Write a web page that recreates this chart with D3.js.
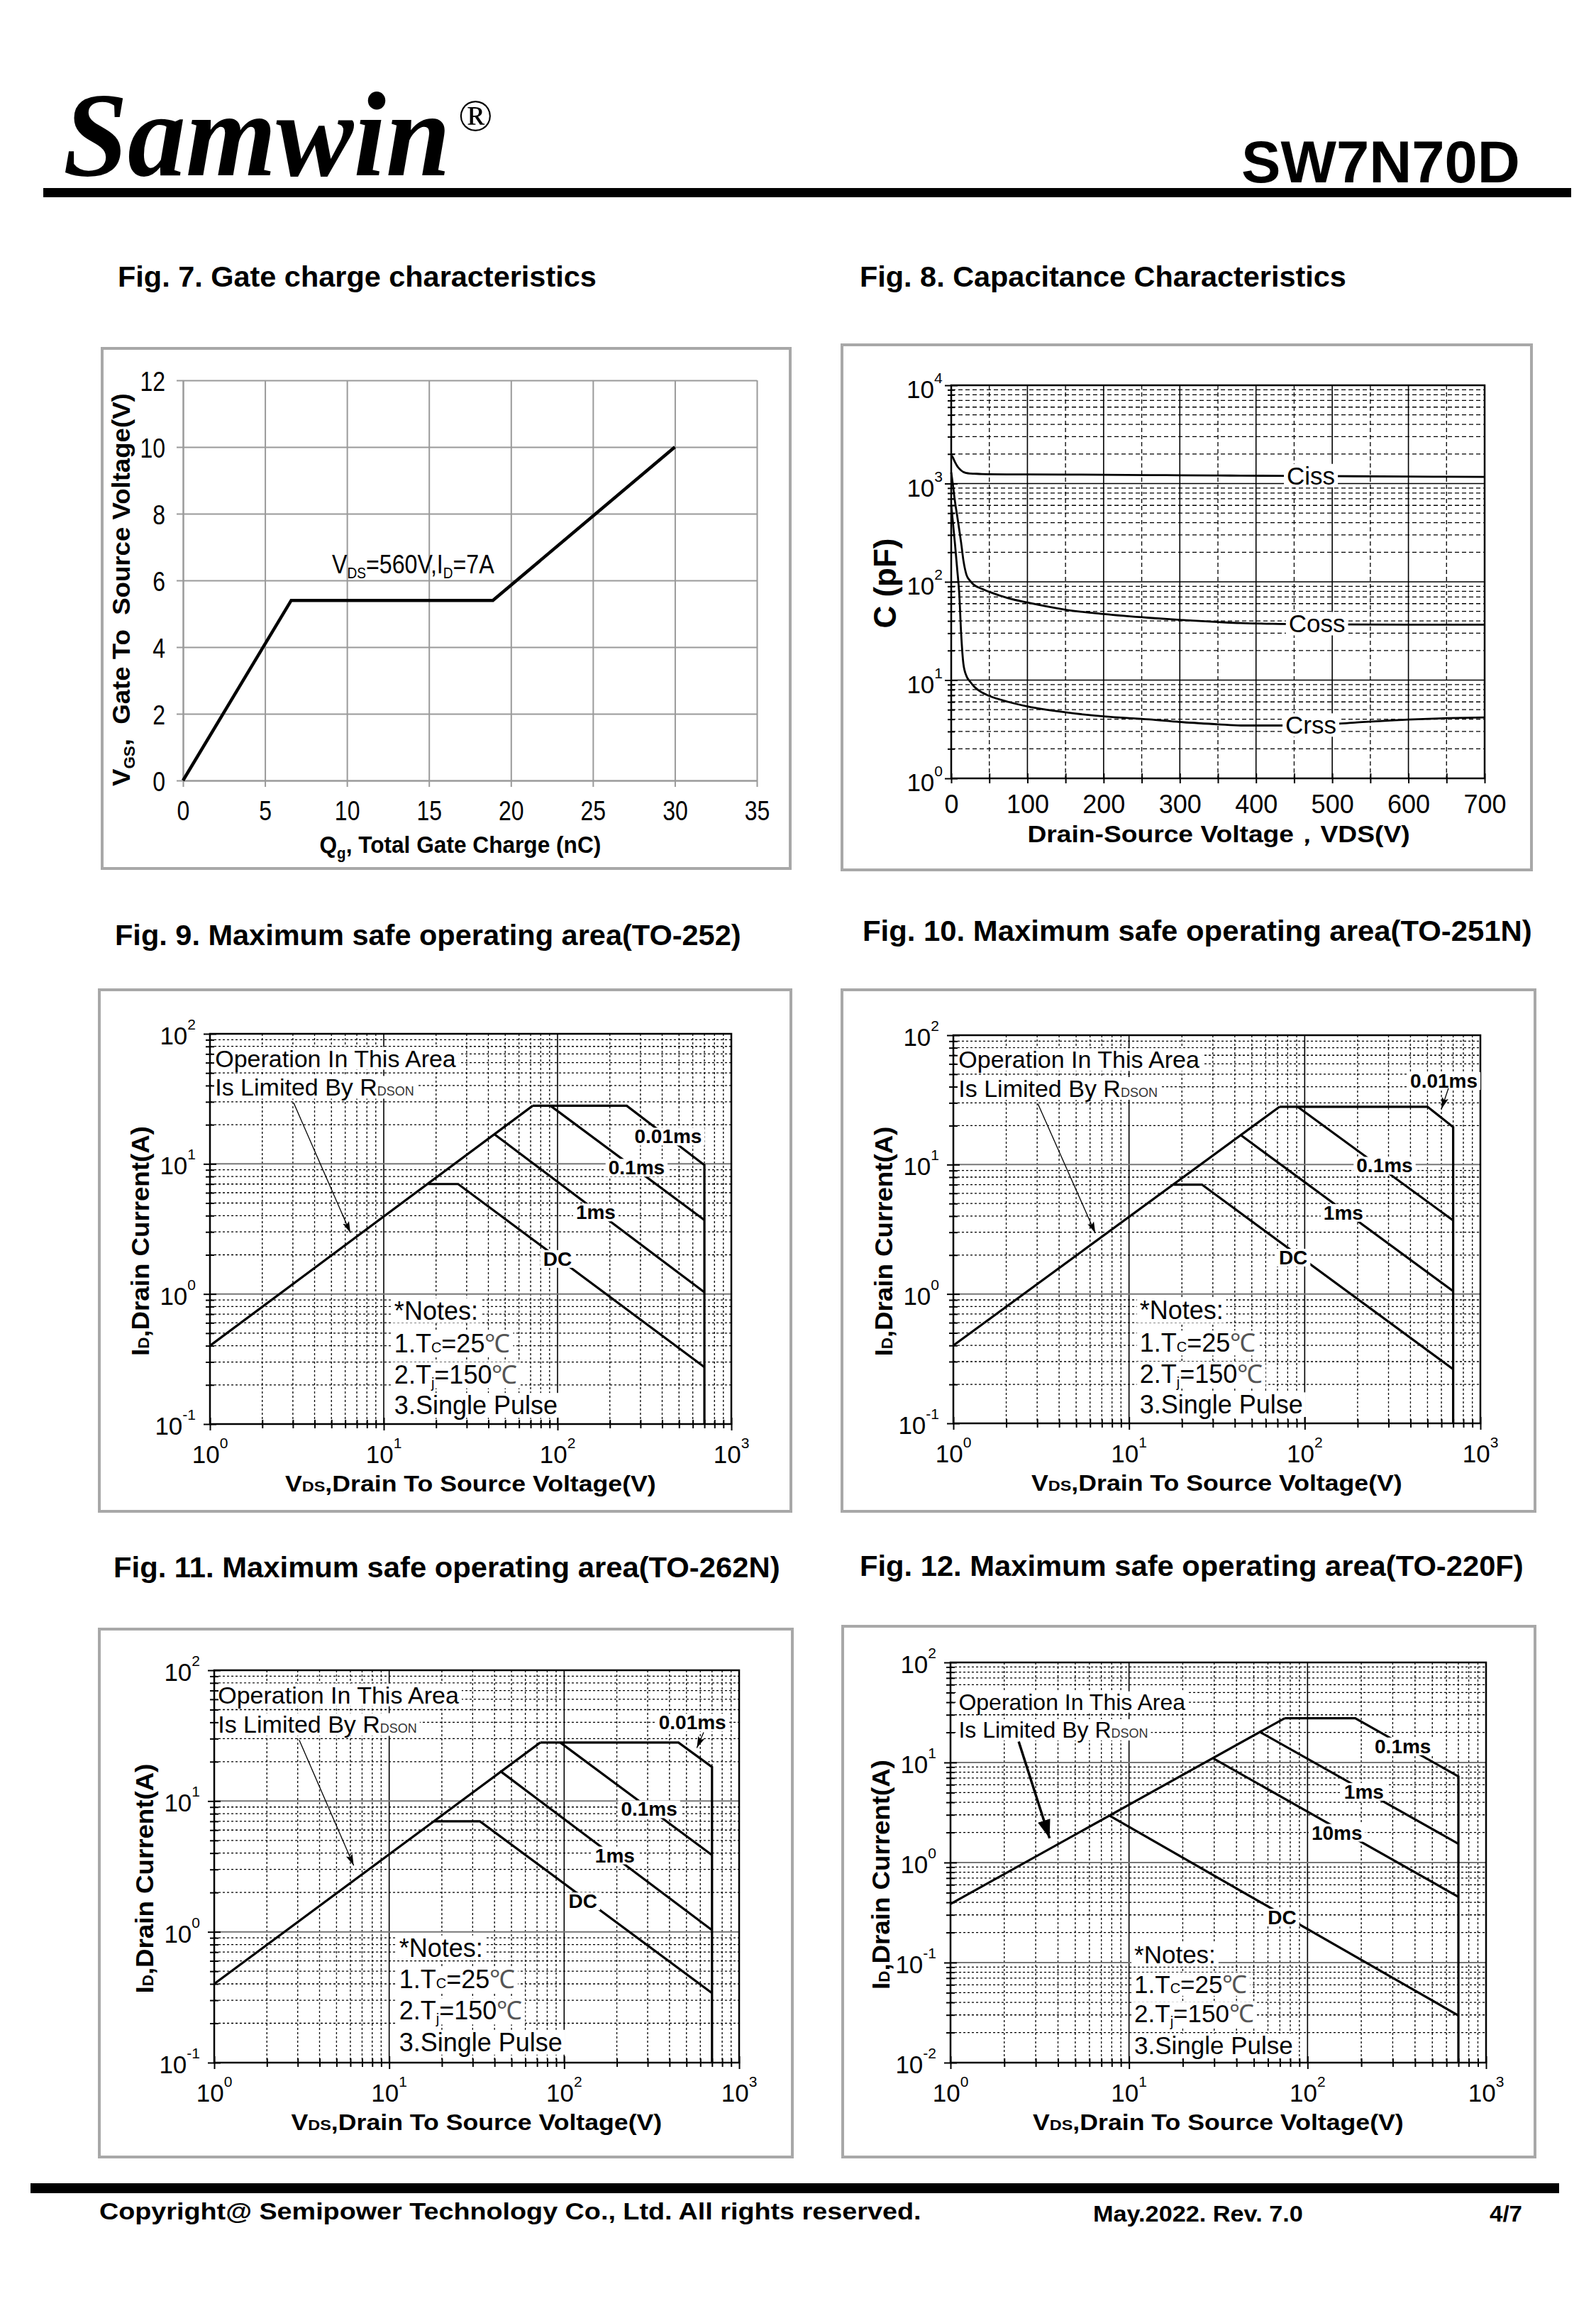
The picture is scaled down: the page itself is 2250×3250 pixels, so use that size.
<!DOCTYPE html>
<html>
<head>
<meta charset="utf-8">
<script src="https://cdn.jsdelivr.net/npm/d3@7"></script>
<style>
body { margin: 0; background: #fff; }
text { font-family: Arial, "Liberation Sans", Helvetica, sans-serif; white-space: pre; }
text.serif { font-family: "Liberation Serif", "Times New Roman", serif; }
</style>
</head>
<body>
<script>
// ---------- data ----------
// Fig. 7 gate charge
const qgNc = [0, 6.6, 18.9, 30];
const vgsV = [0, 5.4, 5.4, 10];
const fig7XTicks = [0, 5, 10, 15, 20, 25, 30, 35];
const fig7YTicks = [0, 2, 4, 6, 8, 10, 12];

// Fig. 8 capacitance (pF) vs VDS (V)
const capVds = [0, 2, 5, 8, 10.5, 13, 16, 20, 25, 30, 40, 50, 75, 100, 150, 200, 260, 300, 350, 380, 430, 480, 530, 600, 650, 700];
const ciss = [1950, 1850, 1650, 1500, 1420, 1360, 1310, 1280, 1265, 1260, 1250, 1245, 1240, 1238, 1235, 1228, 1220, 1215, 1208, 1204, 1198, 1192, 1186, 1178, 1172, 1167];
const coss = [1300, 1000, 650, 460, 340, 250, 165, 118, 102, 93, 85, 79, 68, 61.5, 52, 47, 43, 41, 39, 38, 37.3, 37, 36.8, 36.7, 36.6, 36.6];
const crss = [600, 420, 240, 130, 77, 30, 14.6, 11, 9.6, 8.6, 7.5, 6.9, 6.0, 5.4, 4.7, 4.27, 3.98, 3.75, 3.55, 3.45, 3.45, 3.5, 3.7, 3.97, 4.1, 4.17];
const fig8XTicks = [0, 100, 200, 300, 400, 500, 600, 700];
const capLabels = [["Ciss", 472, 1195], ["Coss", 480, 37.2], ["Crss", 472, 3.46]];

// Fig. 9 SOA TO-252  [V, A]
const soa9Rdson = [[1, 0.4], [72, 28]];
const soa9Ms001 = [[72, 28], [250, 28], [700, 9.8], [700, 0.1]];
const soa9Ms01 = [[91, 28], [700, 3.7]];
const soa9Ms1 = [[43, 17], [700, 1.03]];
const soa9Dc = [[18, 7], [26.8, 7], [700, 0.274]];
const soa9Labels = [["0.01ms", 433, 16.3], ["0.1ms", 285, 9.4], ["1ms", 166, 4.26], ["DC", 100, 1.87]];

// Fig. 10 SOA TO-251N
const soa10Rdson = [[1, 0.4], [72, 28]];
const soa10Ms001 = [[72, 28], [500, 28], [700, 19.5], [700, 0.1]];
const soa10Ms01 = [[91, 28], [700, 3.7]];
const soa10Ms1 = [[43, 17], [700, 1.05]];
const soa10Dc = [[18, 7], [26, 7], [700, 0.262]];
const soa10Labels = [["0.01ms", 620, 44.5], ["0.1ms", 285, 9.86], ["1ms", 166, 4.26], ["DC", 86, 1.92]];

// Fig. 11 SOA TO-262N
const soa11Rdson = [[1, 0.4], [73, 28]];
const soa11Ms001 = [[73, 28], [450, 28], [700, 18.2], [700, 0.1]];
const soa11Ms01 = [[95, 28], [700, 3.86]];
const soa11Ms1 = [[43, 17], [700, 1.03]];
const soa11Dc = [[18, 7], [33, 7], [700, 0.34]];
const soa11Labels = [["0.01ms", 541, 40], ["0.1ms", 306, 8.7], ["1ms", 195, 3.86], ["DC", 128, 1.72]];

// Fig. 12 SOA TO-220F
const soa12Rdson = [[1, 0.386], [74.5, 27.7]];
const soa12Ms01 = [[74.5, 27.7], [185, 27.7], [700, 7.25], [700, 0.01]];
const soa12Ms1 = [[54.6, 20], [700, 1.54]];
const soa12Ms10 = [[29.6, 11], [700, 0.454]];
const soa12Dc = [[7.8, 2.93], [700, 0.0296]];
const soa12Labels = [["0.1ms", 342, 14.6], ["1ms", 207, 5.13], ["10ms", 146, 2.0], ["DC", 72, 0.284]];

// ---------- page ----------
const svg = d3.select("body").append("svg")
  .attr("width", 2250).attr("height", 3250).style("display", "block");

const defs = svg.append("defs");
defs.append("marker").attr("id", "arrThin").attr("viewBox", "0 0 10 10")
  .attr("refX", 10).attr("refY", 5).attr("markerWidth", 16).attr("markerHeight", 16)
  .attr("markerUnits", "userSpaceOnUse").attr("orient", "auto")
  .append("path").attr("d", "M0,2 L10,5 L0,8 L2,5 z").attr("fill", "#000");
defs.append("marker").attr("id", "arrBold").attr("viewBox", "0 0 10 10")
  .attr("refX", 10).attr("refY", 5).attr("markerWidth", 26).attr("markerHeight", 26)
  .attr("markerUnits", "userSpaceOnUse").attr("orient", "auto")
  .append("path").attr("d", "M0,1.5 L10,5 L0,8.5 z").attr("fill", "#000");

// text with tspans: parts are strings or {t, size, off, weight}
function rich(parent, parts, size, weight, cls) {
  const t = parent.append("text").attr("class", cls || null).attr("font-size", size)
    .attr("font-weight", weight || "normal").attr("fill", "#000");
  let cur = 0;
  parts.forEach(p => {
    const o = typeof p === "string" ? { t: p } : p;
    const off = o.off || 0;
    t.append("tspan").attr("dy", off - cur).attr("font-size", o.size || size)
      .attr("font-weight", o.weight || null).attr("fill", o.fill || null).text(o.t);
    cur = off;
  });
  return t;
}

// place text with baseline at (x, y); optional fit width, rotate, white background
function place(parent, parts, size, weight, x, y, opt = {}) {
  const g = parent.append("g");
  const t = rich(g, parts, size, weight, opt.cls);
  if (opt.italic) t.attr("font-style", "italic");
  const b = t.node().getBBox();
  const sx = opt.width ? opt.width / b.width : (opt.sx || 1);
  const ax = opt.anchor === "middle" ? b.x + b.width / 2 : opt.anchor === "end" ? b.x + b.width : b.x;
  g.attr("transform", `translate(${x},${y}) rotate(${opt.rotate || 0}) scale(${sx},1) translate(${-ax},0)`);
  if (opt.bg) {
    g.insert("rect", "text").attr("x", b.x - 4).attr("y", b.y + 3)
      .attr("width", b.width + 8).attr("height", b.height - 6).attr("fill", "#fff");
  }
  return g;
}

function frame(r) {
  svg.append("rect").attr("x", r[0]).attr("y", r[1]).attr("width", r[2] - r[0]).attr("height", r[3] - r[1])
    .attr("fill", "none").attr("stroke", "#a8a8a8").attr("stroke-width", 4);
}

const isDecade = v => Math.abs(Math.log10(v) - Math.round(Math.log10(v))) < 1e-6;

// header
place(svg, ["Samwin"], 170, "bold", 89, 247, { width: 546, cls: "serif", italic: true });
place(svg, ["®"], 64, "normal", 646, 184, { cls: "serif" });
place(svg, ["SW7N70D"], 84, "bold", 1750, 257, { width: 393 });
svg.append("rect").attr("x", 61).attr("y", 265).attr("width", 2154).attr("height", 13).attr("fill", "#000");

// titles
place(svg, ["Fig. 7. Gate charge characteristics"], 40, "bold", 166, 404, { width: 675 });
place(svg, ["Fig. 8. Capacitance Characteristics"], 40, "bold", 1212, 404, { width: 686 });
place(svg, ["Fig. 9. Maximum safe operating area(TO-252)"], 40, "bold", 162, 1332, { width: 883 });
place(svg, ["Fig. 10. Maximum safe operating area(TO-251N)"], 40, "bold", 1216, 1326, { width: 944 });
place(svg, ["Fig. 11. Maximum safe operating area(TO-262N)"], 40, "bold", 160, 2223, { width: 940 });
place(svg, ["Fig. 12. Maximum safe operating area(TO-220F)"], 40, "bold", 1212, 2221, { width: 936 });

// footer
svg.append("rect").attr("x", 43).attr("y", 3077).attr("width", 2155).attr("height", 14).attr("fill", "#000");
place(svg, ["Copyright@ Semipower Technology Co., Ltd. All rights reserved."], 34, "bold", 140, 3128, { width: 1159 });
place(svg, ["May.2022. Rev. 7.0"], 31, "bold", 1541, 3131, { width: 296 });
place(svg, ["4/7"], 31, "bold", 2100, 3131, { width: 46 });

// ---------- Fig. 7 ----------
{
  const x = d3.scaleLinear().domain([0, 35]).range([258, 1067]);
  const y = d3.scaleLinear().domain([0, 12]).range([1100, 536]);
  frame([144, 491, 1114, 1224]);
  const g = svg.append("g");
  const gridC = "#9a9a9a";
  const sq = 0.82; // tick labels are narrow in the original
  g.append("g").attr("transform", "translate(0,1100)")
    .call(d3.axisBottom(x).tickValues(fig7XTicks).tickSizeInner(-564).tickSizeOuter(0))
    .call(a => a.selectAll("line").attr("stroke", gridC).attr("stroke-width", 2).attr("y1", 9))
    .call(a => a.select(".domain").attr("stroke", gridC).attr("stroke-width", 2))
    .call(a => a.selectAll("text").attr("y", 56).attr("dy", null).attr("font-size", 39)
      .attr("transform", `scale(${sq},1)`).attr("fill", "#000"));
  g.append("g").attr("transform", "translate(258,0)")
    .call(d3.axisLeft(y).tickValues(fig7YTicks).tickSizeInner(-809).tickSizeOuter(0))
    .call(a => a.selectAll("line").attr("stroke", gridC).attr("stroke-width", 2).attr("x1", -9))
    .call(a => a.select(".domain").attr("stroke", gridC).attr("stroke-width", 2))
    .call(a => a.selectAll("text").attr("x", -25 / sq).attr("dy", "0.36em").attr("font-size", 39)
      .attr("transform", `scale(${sq},1)`).attr("fill", "#000"));
  g.append("path").datum(d3.zip(qgNc, vgsV))
    .attr("d", d3.line().x(d => x(d[0])).y(d => y(d[1])))
    .attr("fill", "none").attr("stroke", "#000").attr("stroke-width", 4.5);
  place(g, ["V", { t: "DS", size: 22, off: 7 }, { t: "=560V,I" }, { t: "D", size: 22, off: 7 }, { t: "=7A" }],
    37, "normal", 468, 808, { width: 229 });
  place(g, ["Q", { t: "g", size: 22, off: 8 }, { t: ", Total Gate Charge (nC)" }], 34, "bold", 649, 1202,
    { anchor: "middle", width: 397 });
  place(g, ["V", { t: "GS", size: 22, off: 7 }, { t: ",  Gate To  Source Voltage(V)" }], 36, "bold", 183, 831,
    { anchor: "middle", width: 554, rotate: -90 });
}

// ---------- Fig. 8 ----------
{
  const x = d3.scaleLinear().domain([0, 700]).range([1341, 2093]);
  const y = d3.scaleLog().domain([1, 10000]).range([1097, 543]);
  frame([1187, 486, 2159, 1226]);
  const g = svg.append("g");
  const yt = y.ticks();
  const xt = x.ticks(14);
  const x0 = 1341, x1 = 2093, y0 = 543, y1 = 1097;
  g.selectAll(null).data(yt.filter(v => !isDecade(v))).join("line")
    .attr("x1", x0).attr("x2", x1).attr("y1", y).attr("y2", y)
    .attr("stroke", "#000").attr("stroke-width", 1.3).attr("stroke-dasharray", "6,4");
  g.selectAll(null).data(xt.filter(v => v % 100 !== 0)).join("line")
    .attr("x1", x).attr("x2", x).attr("y1", y0).attr("y2", y1)
    .attr("stroke", "#000").attr("stroke-width", 1.3).attr("stroke-dasharray", "6,4");
  g.selectAll(null).data(yt.filter(v => isDecade(v) && v > 1 && v < 10000)).join("line")
    .attr("x1", x0).attr("x2", x1).attr("y1", y).attr("y2", y).attr("stroke", "#000").attr("stroke-width", 1.6);
  g.selectAll(null).data(xt.filter(v => v % 100 === 0 && v > 0 && v < 700)).join("line")
    .attr("x1", x).attr("x2", x).attr("y1", y0).attr("y2", y1).attr("stroke", "#000").attr("stroke-width", 1.6);
  g.append("g").attr("transform", `translate(${x0},0)`)
    .call(d3.axisLeft(y).tickValues(yt).tickFormat("").tickSizeOuter(0))
    .call(a => a.selectAll(".tick line").attr("x1", d => isDecade(d) ? 9 : 5).attr("x2", d => isDecade(d) ? -9 : -5).attr("stroke-width", 2))
    .call(a => a.select(".domain").remove());
  g.append("g").attr("transform", `translate(0,${y1})`)
    .call(d3.axisBottom(x).tickValues(xt).tickSizeOuter(0))
    .call(a => a.selectAll(".tick line").attr("y1", -7).attr("y2", 7).attr("stroke-width", 2))
    .call(a => a.select(".domain").remove())
    .call(a => a.selectAll("text").text(d => fig8XTicks.includes(d) ? d : "")
      .attr("y", 49).attr("dy", null).attr("font-size", 36).attr("fill", "#000"));
  g.append("rect").attr("x", x0).attr("y", y0).attr("width", x1 - x0).attr("height", y1 - y0)
    .attr("fill", "none").attr("stroke", "#000").attr("stroke-width", 2.5);
  yt.filter(isDecade).forEach(v => {
    place(g, ["10", { t: String(Math.round(Math.log10(v))), size: 21, off: -21 }], 35, "normal", x0 - 12, y(v) + 18, { anchor: "end" });
  });
  const line = d3.line().curve(d3.curveMonotoneX).x(d => x(d[0])).y(d => y(d[1]));
  [ciss, coss, crss].forEach(s => {
    g.append("path").datum(d3.zip(capVds, s)).attr("d", line)
      .attr("fill", "none").attr("stroke", "#000").attr("stroke-width", 2.8);
  });
  capLabels.forEach(([t, v, c]) => place(g, [t], 35, "normal", x(v), y(c) + 12, { anchor: "middle", bg: true }));
  place(g, ["Drain-Source Voltage，VDS(V)"], 34, "bold", 1718, 1187, { anchor: "middle", width: 539 });
  place(g, ["C (pF)"], 44, "bold", 1263, 822, { anchor: "middle", rotate: -90 });
}

// ---------- SOA charts ----------
function soa(c) {
  frame(c.frame);
  const x = d3.scaleLog().domain([1, 1000]).range([c.x0, c.x1]);
  const y = d3.scaleLog().domain(c.yDomain).range([c.y1, c.y0]);
  const g = svg.append("g");
  const xt = x.ticks(), yt = y.ticks();
  g.selectAll(null).data(xt.filter(v => !isDecade(v))).join("line")
    .attr("x1", x).attr("x2", x).attr("y1", c.y0).attr("y2", c.y1)
    .attr("stroke", "#000").attr("stroke-width", 1.3).attr("stroke-dasharray", "3,3");
  g.selectAll(null).data(yt.filter(v => !isDecade(v))).join("line")
    .attr("x1", c.x0).attr("x2", c.x1).attr("y1", y).attr("y2", y)
    .attr("stroke", "#000").attr("stroke-width", 1.3).attr("stroke-dasharray", "3,3");
  g.selectAll(null).data(xt.filter(v => isDecade(v) && v > 1 && v < 1000)).join("line")
    .attr("x1", x).attr("x2", x).attr("y1", c.y0).attr("y2", c.y1).attr("stroke", "#000").attr("stroke-width", 1.6);
  g.selectAll(null).data(yt.filter(v => isDecade(v) && v > c.yDomain[0] * 1.01 && v < c.yDomain[1] * 0.99)).join("line")
    .attr("x1", c.x0).attr("x2", c.x1).attr("y1", y).attr("y2", y).attr("stroke", "#777").attr("stroke-width", 2);
  // notes / region text with white backing go over the grid
  c.opText.forEach((parts, i) => place(g, parts, c.opSize, "normal", x(c.opX), y(c.opY[i]) + c.opSize * 0.36, { bg: true }));
  c.notes.forEach((parts, i) => place(g, parts, c.noteSize, "normal", x(c.noteX), y(c.noteY[i]) + c.noteSize * 0.36, { bg: true }));
  // ticks
  g.append("g").attr("transform", `translate(0,${c.y1})`)
    .call(d3.axisBottom(x).tickValues(xt).tickFormat("").tickSizeOuter(0))
    .call(a => a.selectAll(".tick line").attr("y1", d => isDecade(d) ? -9 : -6).attr("y2", d => isDecade(d) ? 9 : 6).attr("stroke-width", 2))
    .call(a => a.select(".domain").remove());
  g.append("g").attr("transform", `translate(${c.x0},0)`)
    .call(d3.axisLeft(y).tickValues(yt).tickFormat("").tickSizeOuter(0))
    .call(a => a.selectAll(".tick line").attr("x1", d => isDecade(d) ? 9 : 6).attr("x2", d => isDecade(d) ? -9 : -6).attr("stroke-width", 2))
    .call(a => a.select(".domain").remove());
  g.append("rect").attr("x", c.x0).attr("y", c.y0).attr("width", c.x1 - c.x0).attr("height", c.y1 - c.y0)
    .attr("fill", "none").attr("stroke", "#000").attr("stroke-width", 2.5);
  xt.filter(isDecade).forEach(v => place(g, ["10", { t: String(Math.round(Math.log10(v))), size: 21, off: -21 }],
    35, "normal", x(v), c.y1 + 55, { anchor: "middle" }));
  yt.filter(isDecade).forEach(v => place(g, ["10", { t: String(Math.round(Math.log10(v))), size: 21, off: -21 }],
    35, "normal", c.x0 - 20, y(v) + 15, { anchor: "end" }));
  // curves
  const line = d3.line().x(d => x(d[0])).y(d => y(d[1]));
  g.selectAll(null).data(c.curves).join("path").attr("d", line)
    .attr("fill", "none").attr("stroke", "#000").attr("stroke-width", 3.2);
  c.labels.forEach(([t, v, a]) => place(g, [t], 28, "bold", x(v), y(a) + 10, { anchor: "middle", bg: true }));
  c.arrows.forEach(([v1, a1, v2, a2, bold]) => {
    g.append("line").attr("x1", x(v1)).attr("y1", y(a1)).attr("x2", x(v2)).attr("y2", y(a2))
      .attr("stroke", "#000").attr("stroke-width", bold ? 3.5 : 1.3)
      .attr("marker-end", bold ? "url(#arrBold)" : "url(#arrThin)");
  });
  place(g, ["V", { t: "DS", size: 21 }, { t: ",Drain To Source Voltage(V)" }], 32, "bold",
    (c.x0 + c.x1) / 2, c.y1 + 95, { anchor: "middle", width: 523 });
  place(g, ["I", { t: "D", size: 22 }, { t: ",Drain Current(A)" }], 36, "bold",
    c.x0 - 86, (c.y0 + c.y1) / 2 + 17, { anchor: "middle", width: 324, rotate: -90 });
}

const opLines = [["Operation In This Area"], ["Is Limited By R", { t: "DSON", size: 18, fill: "#333" }]];
const noteLines = [
  ["*Notes:"],
  ["1.T", { t: "C", size: 20 }, { t: "=25" }, { t: "℃", fill: "#555" }],
  ["2.T", { t: "j", size: 20, off: 6 }, { t: "=150" }, { t: "℃", fill: "#555" }],
  ["3.Single Pulse"]
];

soa({
  frame: [140, 1395, 1115, 2130], x0: 296, x1: 1031, y0: 1457, y1: 2007, yDomain: [0.1, 100],
  curves: [soa9Rdson, soa9Ms001, soa9Ms01, soa9Ms1, soa9Dc], labels: soa9Labels,
  opText: opLines, opSize: 34, opX: 1.07, opY: [65, 38.9],
  notes: noteLines, noteSize: 36, noteX: 11.5, noteY: [0.75, 0.42, 0.242, 0.14],
  arrows: [[3.03, 29.5, 6.43, 2.95, false]]
});
soa({
  frame: [1187, 1395, 2164, 2130], x0: 1344, x1: 2087, y0: 1459, y1: 2006, yDomain: [0.1, 100],
  curves: [soa10Rdson, soa10Ms001, soa10Ms01, soa10Ms1, soa10Dc], labels: soa10Labels,
  opText: opLines, opSize: 34, opX: 1.07, opY: [65, 38.9],
  notes: noteLines, noteSize: 36, noteX: 11.5, noteY: [0.75, 0.42, 0.242, 0.14],
  arrows: [[3.03, 29.5, 6.43, 2.95, false], [658, 38.9, 601, 27, false]]
});
soa({
  frame: [140, 2296, 1117, 3040], x0: 302, x1: 1042, y0: 2354, y1: 2907, yDomain: [0.1, 100],
  curves: [soa11Rdson, soa11Ms001, soa11Ms01, soa11Ms1, soa11Dc], labels: soa11Labels,
  opText: opLines, opSize: 34, opX: 1.05, opY: [65, 38.6],
  notes: noteLines, noteSize: 36, noteX: 11.4, noteY: [0.758, 0.436, 0.251, 0.144],
  arrows: [[3.06, 29.3, 6.27, 3.21, false], [627, 33.5, 573, 25.5, false]]
});
soa({
  frame: [1188, 2292, 2164, 3040], x0: 1340, x1: 2095, y0: 2343, y1: 2907, yDomain: [0.01, 100],
  curves: [soa12Rdson, soa12Ms01, soa12Ms1, soa12Ms10, soa12Dc], labels: soa12Labels,
  opText: opLines, opSize: 32, opX: 1.11, opY: [40.6, 21.4],
  notes: noteLines, noteSize: 35, noteX: 10.7, noteY: [0.12, 0.061, 0.031, 0.0149],
  arrows: [[2.41, 16.2, 3.59, 1.75, true]]
});
</script>
</body>
</html>
